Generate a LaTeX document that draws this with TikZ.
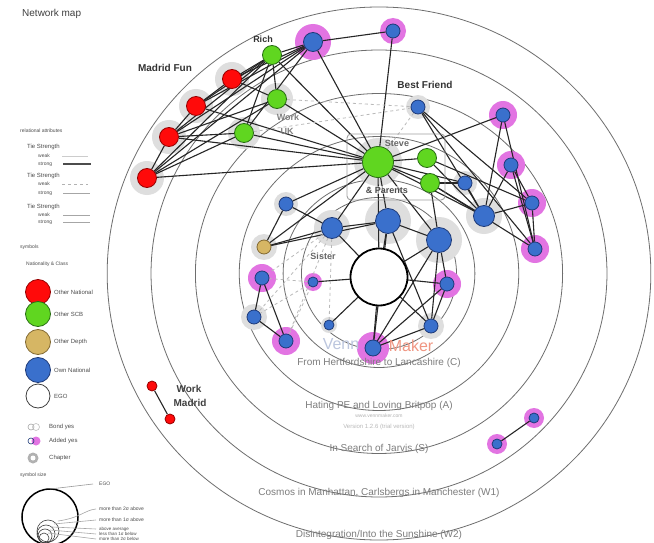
\documentclass[tikz,border=0pt]{standalone}
\usepackage{fontspec}
\setmainfont{Liberation Sans}
\pgfdeclarelayer{rings}
\pgfdeclarelayer{halos}
\pgfdeclarelayer{links}
\pgfsetlayers{rings,halos,links,main}

\definecolor{natred}{RGB}{255,10,10}
\definecolor{natredd}{RGB}{150,0,0}
\definecolor{scbgreen}{RGB}{96,214,32}
\definecolor{scbgreend}{RGB}{40,110,20}
\definecolor{deptan}{RGB}{214,182,100}
\definecolor{deptand}{RGB}{130,105,50}
\definecolor{ownblue}{RGB}{58,112,204}
\definecolor{ownblued}{RGB}{30,58,120}
\definecolor{addmag}{RGB}{226,116,226}
\definecolor{chapgray}{RGB}{222,222,222}
\definecolor{ringgray}{RGB}{110,110,110}
\definecolor{labelgray}{RGB}{125,125,125}
\definecolor{vennblue}{RGB}{188,198,222}
\definecolor{vennred}{RGB}{240,150,130}

\tikzset{
  ring/.style={draw=ringgray, line width=0.8pt},
  pt/.style={circle, inner sep=0pt, line width=0.8pt},
  nat/.style={pt, fill=natred, draw=natredd},
  scb/.style={pt, fill=scbgreen, draw=scbgreend},
  dep/.style={pt, fill=deptan, draw=deptand},
  own/.style={pt, fill=ownblue, draw=ownblued},
  egonode/.style={pt, fill=white, draw=black, line width=1.8pt},
  tie/.style={draw=black!85, line width=1.1pt},
  weaktie/.style={draw=gray!55, dashed, line width=0.8pt},
  ringlabel/.style={text=labelgray, font=\fontsize{10}{12}\selectfont},
  grouplabel/.style={font=\bfseries\fontsize{10}{12}\selectfont, text=black!80},
  smalllabel/.style={font=\bfseries\fontsize{9}{11}\selectfont},
  legend/.style={font=\fontsize{6}{7}\selectfont, text=black!70, anchor=west, inner sep=0pt},
  tiny/.style={font=\fontsize{5}{6}\selectfont, text=black!70, anchor=west, inner sep=0pt},
  keyline/.style={draw=gray!70, line width=0.6pt},
}

\begin{document}
\begin{tikzpicture}[x=1pt, y=-1pt]
\useasboundingbox (0,0) rectangle (654,543);

% white page and concentric chapter rings around the ego
\begin{pgfonlayer}{rings}
  \fill[white] (0,0) rectangle (654,543);
  \foreach \r in {266.5,223.5,180,137,94,76}
    \draw[ring] (379,273.5) ellipse [x radius=1.02*\r pt, y radius=\r pt];
\end{pgfonlayer}

% ring captions
\node[ringlabel] (capC)  at (379,363) {From Hertfordshire to Lancashire (C)};
\node[ringlabel] (capA)  at (379,406) {Hating PE and Loving Britpop (A)};
\node[ringlabel] (capS)  at (379,449) {In Search of Jarvis (S)};
\node[ringlabel] (capW1) at (379,493) {Cosmos in Manhattan, Carlsbergs in Manchester (W1)};
\node[ringlabel] (capW2) at (379,535) {Disintegration/Into the Sunshine (W2)};

% watermark
\node[text=vennblue, font=\fontsize{16}{18}\selectfont, inner sep=0pt] (wmv) at (341,344) {Venn};
\node[text=vennred, font=\fontsize{16}{18}\selectfont, inner sep=0pt] (wmm) at (411,346) {Maker};
\node[text=gray!60, font=\fontsize{5}{6}\selectfont] (wmw) at (379,416) {www.vennmaker.com};
\node[text=gray!55, font=\fontsize{6}{7}\selectfont] (wmver) at (379,427) {Version 1.2.6 (trial version)};

% Steve & Parents group box
\draw[draw=gray!75, line width=0.9pt, rounded corners=4pt] (347,134) rectangle (445,200);

% alters
\node[nat, minimum size=19pt] (r1) at (232,79) {};
\node[nat, minimum size=19pt] (r2) at (196,106) {};
\node[nat, minimum size=19pt] (r3) at (169,137) {};
\node[nat, minimum size=19pt] (r4) at (147,178) {};
\node[scb, minimum size=19pt] (rich) at (272,55) {};
\node[scb, minimum size=19pt] (g2) at (277,99) {};
\node[scb, minimum size=19pt] (g3) at (244,133) {};
\node[scb, minimum size=31pt] (steve) at (378,162) {};
\node[scb, minimum size=19pt] (g5) at (427,158) {};
\node[scb, minimum size=19pt] (g6) at (430,183) {};
\node[own, minimum size=19pt] (bt1) at (313,42) {};
\node[own, minimum size=14pt] (bt2) at (393,31) {};
\node[own, minimum size=14pt] (bf) at (418,107) {};
\node[own, minimum size=14pt] (m1) at (503,115) {};
\node[own, minimum size=14pt] (m2) at (511,165) {};
\node[own, minimum size=14pt] (m3) at (532,203) {};
\node[own, minimum size=14pt] (m4) at (535,249) {};
\node[own, minimum size=14pt] (bs) at (465,183) {};
\node[own, minimum size=21pt] (br) at (484,216) {};
\node[own, minimum size=25pt] (bc1) at (388,221) {};
\node[own, minimum size=25pt] (bc2) at (439,240) {};
\node[own, minimum size=14pt] (bl) at (286,204) {};
\node[own, minimum size=21pt] (bm) at (332,228) {};
\node[dep, minimum size=14pt] (yel) at (264,247) {};
\node[own, minimum size=10pt] (sis) at (313,282) {};
\node[own, minimum size=14pt] (lm1) at (262,278) {};
\node[own, minimum size=14pt] (lb) at (254,317) {};
\node[own, minimum size=14pt] (lm2) at (286,341) {};
\node[own, minimum size=10pt] (sb) at (329,325) {};
\node[own, minimum size=16pt] (bmag) at (373,348) {};
\node[own, minimum size=14pt] (rb) at (431,326) {};
\node[own, minimum size=14pt] (rm) at (447,284) {};
\node[egonode, minimum size=57pt] (ego) at (379,277) {};
\node[nat, minimum size=10pt] (wm1) at (152,386) {};
\node[nat, minimum size=10pt] (wm2) at (170,419) {};
\node[own, minimum size=10pt] (p1) at (534,418) {};
\node[own, minimum size=10pt] (p2) at (497,444) {};

% halos: grey = chapter, magenta = added
\begin{pgfonlayer}{halos}
  \foreach \n/\r in {r1/17,r2/17,r3/17,r4/17,g2/16,g3/16,steve/24,bf/12,bs/12,br/18,
                     bc1/23,bc2/23,bl/12,bm/18,yel/13,lb/13,sb/8,rb/13}
    \fill[chapgray] (\n) circle (\r pt);
  \foreach \n/\r in {bt1/18,bt2/13,m1/14,m2/14,m3/14,m4/14,sis/9,lm1/14,lm2/14,
                     bmag/16,rm/14,p1/10,p2/10}
    \fill[addmag] (\n) circle (\r pt);
\end{pgfonlayer}

% ties
\begin{pgfonlayer}{links}
  \foreach \a/\b in {r4/r3,r3/r2,r2/r1,r1/rich,
      r4/rich,r4/bt1,r4/g2,r4/g3,r4/steve,
      r3/rich,r3/bt1,r3/g3,r3/steve,r3/g2,
      r2/rich,r2/bt1,r2/steve,r1/bt1,r1/g2,
      rich/bt1,rich/g2,rich/g3,rich/steve,
      g2/steve,g3/steve,g3/bt1,bt1/bt2,bt1/steve,bt2/steve,
      steve/g5,steve/g6,steve/bs,steve/m1,steve/br,steve/bc1,steve/bc2,
      steve/bm,steve/bl,steve/yel,steve/ego,
      bf/m3,bf/m4,bf/br,m1/br,m1/m4,m2/m3,m2/m4,m2/br,m3/m4,m3/br,
      g5/m3,g6/m4,g6/br,g6/bs,bs/br,g5/br,g6/bc2,
      bc1/ego,bc1/bm,bc1/bc2,bc1/bmag,bc1/rb,
      bc2/ego,bc2/rm,bc2/rb,bc2/bmag,
      bm/ego,bm/bl,bm/yel,bl/yel,yel/bc1,
      ego/sis,ego/sb,ego/bmag,ego/rb,ego/rm,
      bmag/rb,bmag/rm,rm/rb,
      lm1/lb,lm1/lm2,lb/lm2,wm1/wm2,p1/p2}
    \draw[tie] (\a) -- (\b);
  \foreach \a/\b in {g2/bf,g3/bf,bf/steve,bm/lm1,bm/lb,bm/lm2,bm/sb,sis/lm1,sis/lb,sis/lm2}
    \draw[weaktie] (\a) -- (\b);
\end{pgfonlayer}

% group and alter labels
\node[grouplabel] (lmf) at (165,68) {Madrid Fun};
\node[smalllabel, text=black!80] (lrich) at (263,39) {Rich};
\node[grouplabel] (lbf) at (425,85) {Best Friend};
\node[smalllabel, text=black!60] (lsteve) at (397,143) {Steve};
\node[smalllabel, text=black!70, fill=white, fill opacity=0.6, text opacity=1, inner sep=1pt] (lpar) at (387,190) {\& Parents};
\node[smalllabel, text=black!60] (lsis) at (323,256) {Sister};
\node[smalllabel, text=black!50] (lwork) at (288,117) {Work};
\node[smalllabel, text=black!50] (luk) at (287,131) {UK};
\node[grouplabel, text=black!75] (lwm1) at (189,389) {Work};
\node[grouplabel, text=black!75] (lwm2) at (190,403) {Madrid};

% legend
\node[anchor=west, inner sep=0pt, text=black!75, font=\fontsize{10}{12}\selectfont] (title) at (22,14) {Network map};
\node[tiny] (rel) at (20,131) {relational attributes};
\node[legend] (ts1) at (27,147) {Tie Strength};
\node[tiny] (w1) at (38,156) {weak};
\node[tiny] (s1) at (38,164) {strong};
\draw[draw=gray!40, line width=0.8pt] (62,156) -- (88,156);
\draw[draw=black!70, line width=1.6pt] (63,164) -- (91,164);
\node[legend] (ts2) at (27,176) {Tie Strength};
\node[tiny] (w2) at (38,184) {weak};
\node[tiny] (s2) at (38,193) {strong};
\draw[draw=gray!60, dashed, line width=0.7pt] (62,184) -- (88,184);
\draw[keyline] (63,193) -- (90,193);
\node[legend] (ts3) at (27,207) {Tie Strength};
\node[tiny] (w3) at (38,215) {weak};
\node[tiny] (s3) at (38,222) {strong};
\draw[keyline] (63,215) -- (90,215);
\draw[keyline] (63,222) -- (90,222);

\node[tiny] (sym) at (20,247) {symbols};
\node[tiny] (nat) at (26,264) {Nationality \& Class};
\node[nat, minimum size=25pt] (k1) at (38,292) {};
\node[legend] at (54,292) {Other National};
\node[scb, minimum size=25pt] (k2) at (38,314) {};
\node[legend] at (54,314) {Other SCB};
\node[dep, minimum size=25pt] (k3) at (38,342) {};
\node[legend] at (54,342) {Other Depth};
\node[own, minimum size=25pt] (k4) at (38,370) {};
\node[legend] at (54,370) {Own National};
\node[pt, draw=black!75, minimum size=24pt] (k5) at (38,396) {};
\node[legend] at (54,396) {EGO};
\draw[gray!70, line width=0.6pt] (31,427) circle (3pt);
\draw[gray!50, line width=0.6pt] (36,427) circle (3.5pt);
\node[legend] at (49,427) {Bond yes};
\fill[addmag] (36,441) circle (4.5pt);
\draw[ownblued, line width=0.6pt] (31,441) circle (3pt);
\node[legend] at (49,441) {Added yes};
\fill[chapgray!80!black] (33,458) circle (5.5pt);
\fill[white] (33,458) circle (2.5pt);
\node[legend] at (49,458) {Chapter};
\node[tiny] (ssize) at (20,475) {symbol size};

\draw[black, line width=1.5pt] (50,517) circle (28pt);
\draw[gray!80, line width=0.6pt] (50,489) -- (93,484);
\node[tiny] at (99,484) {EGO};
\foreach \cx/\cy/\r in {48/531/11,46/534/9,45/536/7,44/538/5}
  \draw[black!75, line width=0.6pt] (\cx,\cy) circle (\r pt);
\draw[keyline] (58,521) .. controls (80,518) and (85,510) .. (96,509);
\draw[keyline] (54,524) -- (96,520);
\draw[keyline] (52,527) -- (96,529);
\draw[keyline] (50,530) -- (96,534);
\draw[keyline] (48,533) -- (96,539);
\node[tiny] at (99,509) {more than 2σ above};
\node[tiny] at (99,520) {more than 1σ above};
\node[tiny, font=\fontsize{4.5}{5}\selectfont] at (99,529) {above average};
\node[tiny, font=\fontsize{4.5}{5}\selectfont] at (99,534) {less than 1σ below};
\node[tiny, font=\fontsize{4.5}{5}\selectfont] at (99,539) {more than 2σ below};
\end{tikzpicture}
\end{document}
